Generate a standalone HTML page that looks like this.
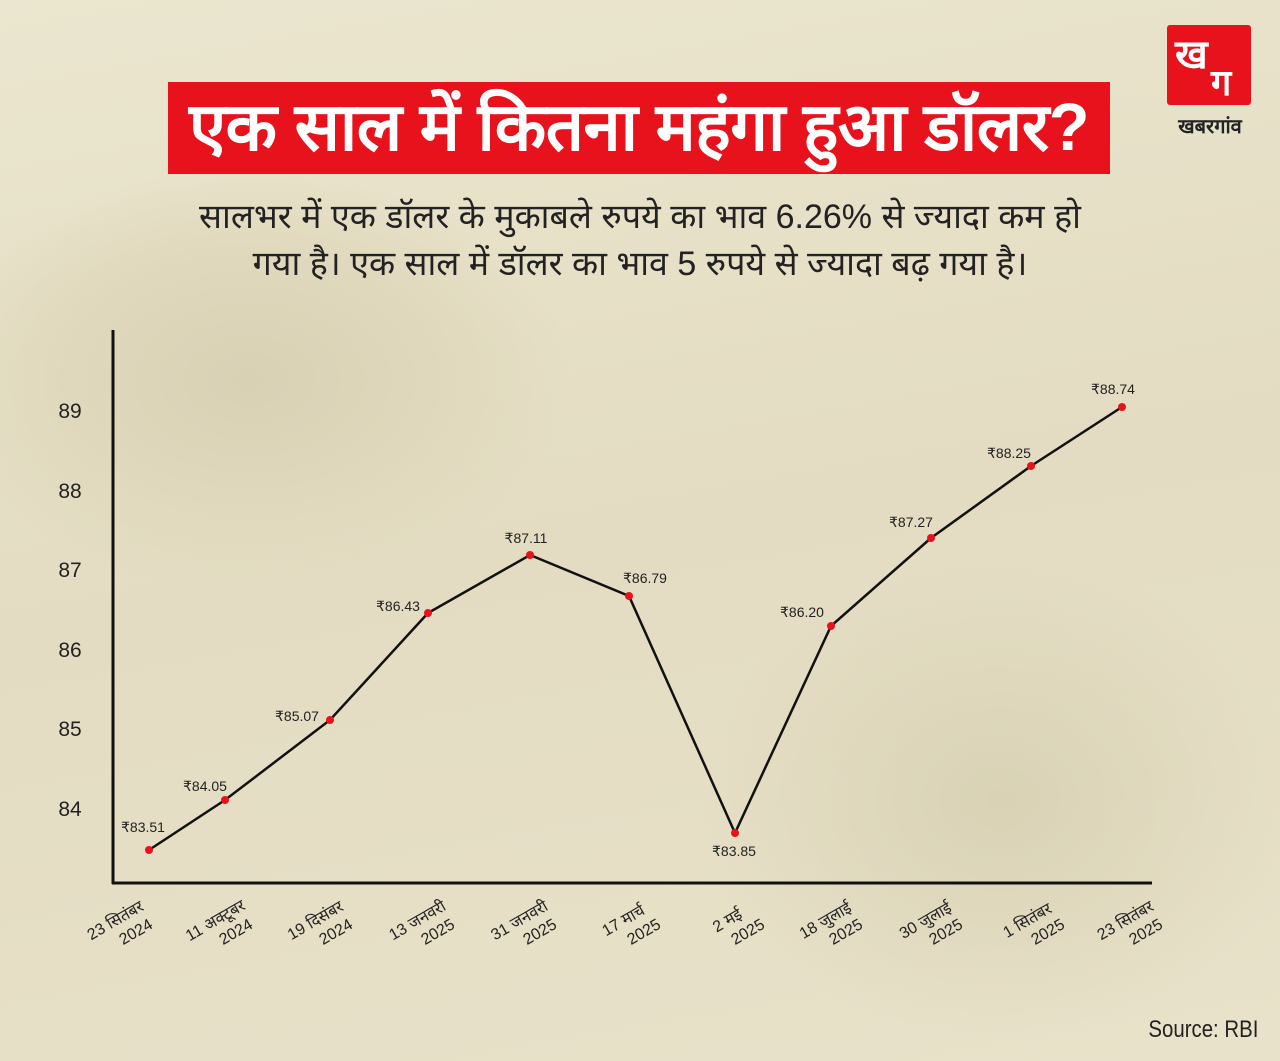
<!DOCTYPE html>
<html><head><meta charset="utf-8"><style>
body{margin:0;width:1280px;height:1061px;overflow:hidden;background:#e6e0c6;font-family:"Liberation Sans","Noto Sans CJK SC",sans-serif;position:relative}
.bg{position:absolute;inset:0;background:radial-gradient(ellipse at 250px 380px,#d8d1b4 0,#e0d9bd 200px,transparent 320px),radial-gradient(ellipse at 1000px 800px,#d9d2b5 0,transparent 300px),linear-gradient(170deg,#ebe6cf,#e3dcc2 50%,#e8e2ca)}
.title{position:absolute;left:168px;top:82px;width:942px;height:92px;background:#e8121c;color:#fff;font-weight:bold;font-size:67px;line-height:92px;text-align:center;white-space:nowrap;letter-spacing:-0.5px}
.sub{position:absolute;left:80px;width:1120px;top:194px;text-align:center;font-size:34px;line-height:47px;color:#222}
.logo{position:absolute;left:1167px;top:25px;width:84px;height:80px;background:#e8121c;border-radius:3px;color:#fff;font-weight:bold}
.logot{position:absolute;left:1160px;top:112px;width:100px;text-align:center;font-size:20px;font-weight:bold;color:#222}
.src{position:absolute;right:22px;top:1016px;font-size:24px;color:#222;transform:scaleX(0.85);transform-origin:right}
</style></head><body>
<div class="bg"></div>
<div class="title">एक साल में कितना महंगा हुआ डॉलर?</div>
<div class="sub">सालभर में एक डॉलर के मुकाबले रुपये का भाव 6.26% से ज्यादा कम हो<br>गया है। एक साल में डॉलर का भाव 5 रुपये से ज्यादा बढ़ गया है।</div>
<div class="logo"><span style="position:absolute;left:8px;top:0;font-size:40px">ख</span><span style="position:absolute;left:44px;top:32px;font-size:36px">ग</span></div>
<div class="logot">खबरगांव</div>
<svg width="1280" height="1061" style="position:absolute;left:0;top:0" font-family="Liberation Sans, Noto Sans CJK SC, sans-serif">
<line x1="113" y1="330" x2="113" y2="884" stroke="#111" stroke-width="3"/>
<line x1="112" y1="883" x2="1152" y2="883" stroke="#111" stroke-width="3"/>
<g font-size="21" fill="#222" text-anchor="middle">
<text x="70" y="418">89</text><text x="70" y="498">88</text><text x="70" y="577">87</text><text x="70" y="657">86</text><text x="70" y="736">85</text><text x="70" y="816">84</text>
</g>
<polyline fill="none" stroke="#111" stroke-width="2.5" points="149,850 225,800 330,720 428,613 530,555 629,596 735,833 831,626 931,538 1031,466 1122,407"/>
<g fill="#e8121c">
<circle cx="149" cy="850" r="4"/><circle cx="225" cy="800" r="4"/><circle cx="330" cy="720" r="4"/><circle cx="428" cy="613" r="4"/><circle cx="530" cy="555" r="4"/><circle cx="629" cy="596" r="4"/><circle cx="735" cy="833" r="4"/><circle cx="831" cy="626" r="4"/><circle cx="931" cy="538" r="4"/><circle cx="1031" cy="466" r="4"/><circle cx="1122" cy="407" r="4"/>
</g>
<g font-size="14" fill="#222" text-anchor="middle">
<text x="143" y="832">₹83.51</text><text x="205" y="791">₹84.05</text><text x="297" y="721">₹85.07</text><text x="398" y="611">₹86.43</text><text x="526" y="543">₹87.11</text><text x="645" y="583">₹86.79</text><text x="734" y="856">₹83.85</text><text x="802" y="617">₹86.20</text><text x="911" y="527">₹87.27</text><text x="1009" y="458">₹88.25</text><text x="1113" y="394">₹88.74</text>
</g>
<g font-size="16" fill="#222" text-anchor="middle">
<g transform="translate(118,925) rotate(-30)"><text x="0" y="0">23 सितंबर</text><text x="12" y="20">2024</text></g>
<g transform="translate(218,925) rotate(-30)"><text x="0" y="0">11 अक्टूबर</text><text x="12" y="20">2024</text></g>
<g transform="translate(318,925) rotate(-30)"><text x="0" y="0">19 दिसंबर</text><text x="12" y="20">2024</text></g>
<g transform="translate(420,925) rotate(-30)"><text x="0" y="0">13 जनवरी</text><text x="12" y="20">2025</text></g>
<g transform="translate(522,925) rotate(-30)"><text x="0" y="0">31 जनवरी</text><text x="12" y="20">2025</text></g>
<g transform="translate(626,925) rotate(-30)"><text x="0" y="0">17 मार्च</text><text x="12" y="20">2025</text></g>
<g transform="translate(730,925) rotate(-30)"><text x="0" y="0">2 मई</text><text x="12" y="20">2025</text></g>
<g transform="translate(828,925) rotate(-30)"><text x="0" y="0">18 जुलाई</text><text x="12" y="20">2025</text></g>
<g transform="translate(928,925) rotate(-30)"><text x="0" y="0">30 जुलाई</text><text x="12" y="20">2025</text></g>
<g transform="translate(1030,925) rotate(-30)"><text x="0" y="0">1 सितंबर</text><text x="12" y="20">2025</text></g>
<g transform="translate(1128,925) rotate(-30)"><text x="0" y="0">23 सितंबर</text><text x="12" y="20">2025</text></g>
</g>
</svg>
<div class="src">Source: RBI</div>
</body></html>
